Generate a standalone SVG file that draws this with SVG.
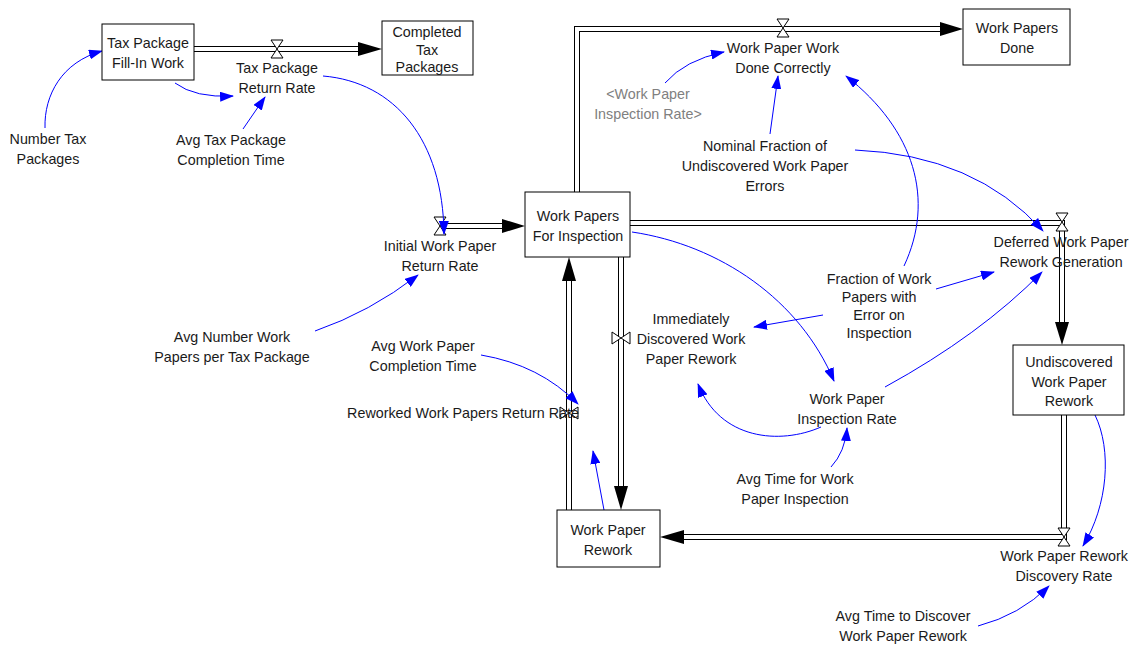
<svg xmlns="http://www.w3.org/2000/svg" width="1131" height="646" viewBox="0 0 1131 646">
<defs>
<marker id="ah" viewBox="0 0 14 10" refX="13" refY="5" markerWidth="14" markerHeight="10" markerUnits="userSpaceOnUse" orient="auto">
<path d="M0,0 L14,5 L0,10 Z" fill="#0000ff"/>
</marker>
<style>
text{font-family:"Liberation Sans",Arial,sans-serif;font-size:14.3px;fill:#1a1a1a;text-anchor:middle}
.g{fill:#808080}
.box{fill:#fff;stroke:#000;stroke-width:1}
.po{fill:none;stroke:#000;stroke-width:6;stroke-linejoin:miter}
.pi{fill:none;stroke:#fff;stroke-width:4;stroke-linejoin:miter}
.pa{fill:#000}
.v{fill:#fff;stroke:#000;stroke-width:1}
.lk{fill:none;stroke:#0000ff;stroke-width:1;marker-end:url(#ah)}
</style>
</defs>
<rect width="1131" height="646" fill="#fff"/>

<g id="pipes">
<path class="po" d="M194,49 H360"/><path class="pi" d="M194,49 H361"/>
<polygon class="pa" points="358,42 382,49 358,56"/>
<path class="po" d="M577,192 V29 H942"/><path class="pi" d="M577,193 V29 H943"/>
<polygon class="pa" points="940,22 963,29 940,36"/>
<path class="po" d="M440,226 H504"/><path class="pi" d="M440,226 H505"/>
<polygon class="pa" points="502,219 525,226 502,233"/>
<path class="po" d="M630,223 H1062 V324"/><path class="pi" d="M629,223 H1062 V325"/>
<polygon class="pa" points="1055,322 1062,345 1069,322"/>
<path class="po" d="M1064,415 V537 H682"/><path class="pi" d="M1064,414 V537 H681"/>
<polygon class="pa" points="684,530 660,537 684,544"/>
<path class="po" d="M621,257 V488"/><path class="pi" d="M621,256 V489"/>
<polygon class="pa" points="614,486 621,510 628,486"/>
<path class="po" d="M569,510 V279"/><path class="pi" d="M569,511 V278"/>
<polygon class="pa" points="562,281 569,257 576,281"/>
</g>

<g id="valves">
<path class="v" d="M271,40 L283,40 L271,58 L283,58 Z"/>
<path class="v" d="M777,19 L789,19 L777,37 L789,37 Z"/>
<path class="v" d="M434,217 L446,217 L434,235 L446,235 Z"/>
<path class="v" d="M1056,213 L1068,213 L1056,231 L1068,231 Z"/>
<path class="v" d="M612,332 L612,344 L630,332 L630,344 Z"/>
<path class="v" d="M560,407 L560,419 L578,407 L578,419 Z"/>
<path class="v" d="M1058,528 L1070,528 L1058,546 L1070,546 Z"/>
</g>

<g id="links">
<path class="lk" d="M45,128 C44,95 62,62 102,51"/>
<path class="lk" d="M175,83 Q195,98 233,96"/>
<path class="lk" d="M243,129 L265,97"/>
<path class="lk" d="M323,76 C395,82 443,140 444,234"/>
<path class="lk" d="M315,331 Q370,312 418,275"/>
<path class="lk" d="M665,83 Q685,60 724,52"/>
<path class="lk" d="M770,134 L778,76"/>
<path class="lk" d="M855,150 Q975,155 1043,231"/>
<path class="lk" d="M904,266 C935,200 915,130 846,76"/>
<path class="lk" d="M936,289 L994,272"/>
<path class="lk" d="M823,315 L754,327"/>
<path class="lk" d="M632,232 C720,245 800,300 834,381"/>
<path class="lk" d="M821,427 C780,445 720,440 698,384"/>
<path class="lk" d="M885,387 Q980,335 1042,272"/>
<path class="lk" d="M831,467 Q845,452 847,428"/>
<path class="lk" d="M481,355 Q540,365 578,404"/>
<path class="lk" d="M604,510 L593,451"/>
<path class="lk" d="M1095,415 C1112,450 1108,505 1083,546"/>
<path class="lk" d="M978,626 Q1020,615 1049,586"/>
</g>

<g id="tax-package-fill-in-work"><rect class="box" x="102" y="24" width="92" height="56"/><text x="148" y="48">Tax Package<tspan x="148" dy="20">Fill-In Work</tspan></text></g>
<g id="completed-tax-packages"><rect class="box" x="382" y="21" width="91" height="54"/><text x="427" y="37">Completed<tspan x="427" dy="17.5">Tax</tspan><tspan x="427" dy="17.5">Packages</tspan></text></g>
<g id="work-papers-done"><rect class="box" x="963" y="9" width="107" height="56"/><text x="1017" y="33">Work Papers<tspan x="1017" dy="20">Done</tspan></text></g>
<g id="work-papers-for-inspection"><rect class="box" x="525" y="192" width="105" height="65"/><text x="578" y="221">Work Papers<tspan x="578" dy="20">For Inspection</tspan></text></g>
<g id="undiscovered-work-paper-rework"><rect class="box" x="1013" y="345" width="111" height="70"/><text x="1069" y="367">Undiscovered<tspan x="1069" dy="19.7">Work Paper</tspan><tspan x="1069" dy="19.7">Rework</tspan></text></g>
<g id="work-paper-rework"><rect class="box" x="557" y="510" width="103" height="57"/><text x="608" y="535">Work Paper<tspan x="608" dy="20">Rework</tspan></text></g>

<g id="tax-package-return-rate"><text x="277" y="73">Tax Package<tspan x="277" dy="20">Return Rate</tspan></text></g>
<g id="number-tax-packages"><text x="48" y="144">Number Tax<tspan x="48" dy="20">Packages</tspan></text></g>
<g id="avg-tax-package-completion-time"><text x="231" y="145">Avg Tax Package<tspan x="231" dy="20">Completion Time</tspan></text></g>
<g id="work-paper-inspection-rate-shadow"><text class="g" x="648" y="99">&lt;Work Paper<tspan x="648" dy="20">Inspection Rate&gt;</tspan></text></g>
<g id="work-paper-work-done-correctly"><text x="783" y="53">Work Paper Work<tspan x="783" dy="20">Done Correctly</tspan></text></g>
<g id="nominal-fraction"><text x="765" y="151">Nominal Fraction of<tspan x="765" dy="20">Undiscovered Work Paper</tspan><tspan x="765" dy="20">Errors</tspan></text></g>
<g id="initial-work-paper-return-rate"><text x="440" y="251">Initial Work Paper<tspan x="440" dy="20">Return Rate</tspan></text></g>
<g id="avg-number-work-papers"><text x="232" y="342">Avg Number Work<tspan x="232" dy="20">Papers per Tax Package</tspan></text></g>
<g id="avg-work-paper-completion-time"><text x="423" y="351">Avg Work Paper<tspan x="423" dy="20">Completion Time</tspan></text></g>
<g id="reworked-work-papers-return-rate"><text x="463" y="418">Reworked Work Papers Return Rate</text></g>
<g id="immediately-discovered-work-paper-rework"><text x="691" y="324">Immediately<tspan x="691" dy="20">Discovered Work</tspan><tspan x="691" dy="20">Paper Rework</tspan></text></g>
<g id="fraction-with-error"><text x="879" y="284">Fraction of Work<tspan x="879" dy="18">Papers with</tspan><tspan x="879" dy="18">Error on</tspan><tspan x="879" dy="17.5">Inspection</tspan></text></g>
<g id="deferred-work-paper-rework-generation"><text x="1061" y="247">Deferred Work Paper<tspan x="1061" dy="19.5">Rework Generation</tspan></text></g>
<g id="work-paper-inspection-rate"><text x="847" y="404">Work Paper<tspan x="847" dy="20">Inspection Rate</tspan></text></g>
<g id="avg-time-for-work-paper-inspection"><text x="795" y="484">Avg Time for Work<tspan x="795" dy="20">Paper Inspection</tspan></text></g>
<g id="work-paper-rework-discovery-rate"><text x="1064" y="561">Work Paper Rework<tspan x="1064" dy="20">Discovery Rate</tspan></text></g>
<g id="avg-time-to-discover"><text x="903" y="621">Avg Time to Discover<tspan x="903" dy="20">Work Paper Rework</tspan></text></g>
</svg>
